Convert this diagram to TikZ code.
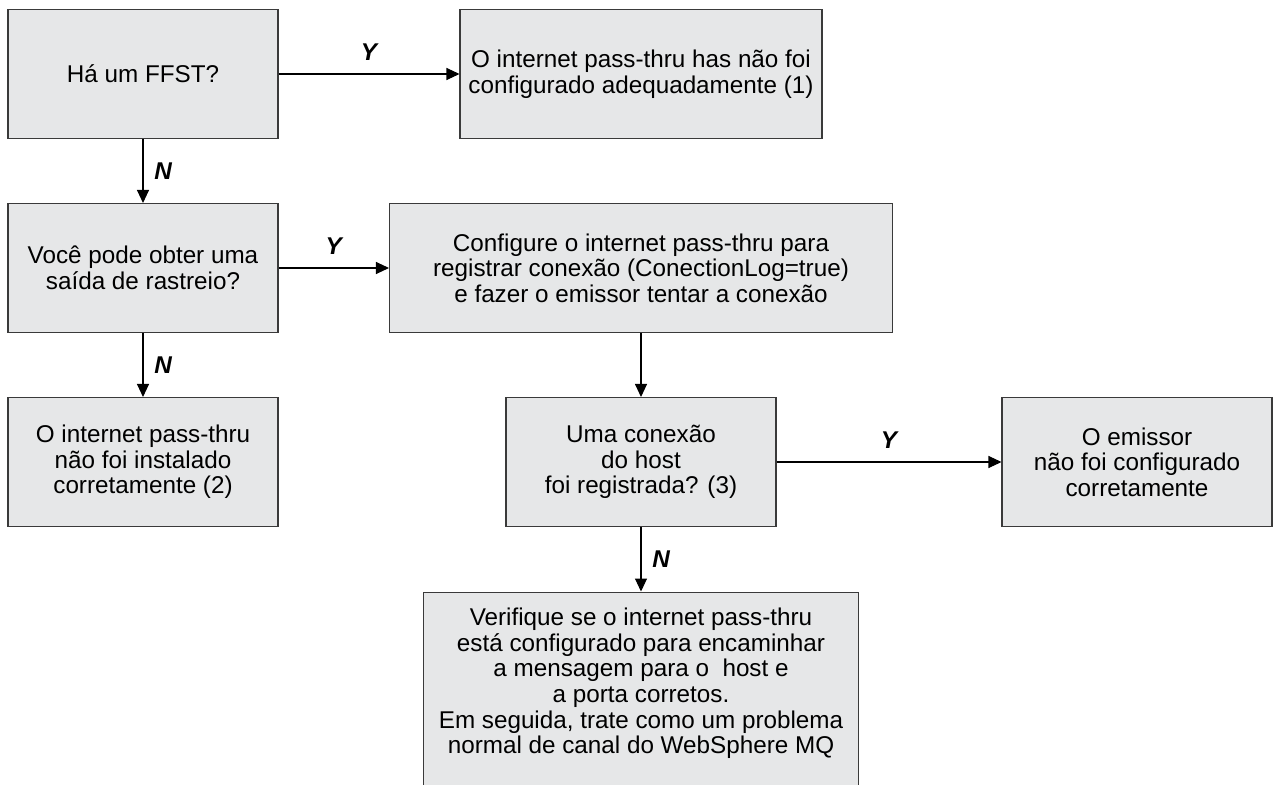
\documentclass[tikz,border=0pt]{standalone}
\usepackage{fontspec}
\setmainfont{Liberation Sans}
\usetikzlibrary{arrows.meta}

\definecolor{boxfill}{HTML}{E6E7E8}
\definecolor{boxline}{HTML}{3A3A3A}

\tikzset{
  box/.style={draw=boxline, fill=boxfill, rectangle, align=center,
    minimum width=5.4cm, minimum height=2.58cm,
    font=\fontsize{13.8}{14.6}\selectfont},
  yn/.style={font=\fontsize{13.8}{14.6}\selectfont\bfseries\itshape}
}

\begin{document}
\begin{tikzpicture}[node distance=3.88cm, line width=0.6pt,
    >={Triangle[length=2.6mm,width=2.4mm]}]
    \useasboundingbox (0,0) rectangle (25.5,-15.68);

    \node (ffst) [box] at (2.86,-1.48) {Há um FFST?};
    \node (badcfg) [box, node distance=9.96cm, right of=ffst, minimum width=7.24cm]
        {O internet pass-thru has não foi\\configurado adequadamente (1)};
    \node (trace) [box, below of=ffst] {Você pode obter uma\\saída de rastreio?};
    \node (setlog) [box, below of=badcfg, minimum width=10.06cm]
        {Configure o internet pass-thru para\\registrar conexão (ConectionLog=true)\\e fazer o emissor tentar a conexão};
    \node (install) [box, below of=trace] {O internet pass-thru\\não foi instalado\\corretamente (2)};
    \node (hostq) [box, below of=setlog] {Uma conexão\\do host\\foi registrada? (3)};
    \node (sender) [box, node distance=9.92cm, right of=hostq] {O emissor\\não foi configurado\\corretamente};
    \node (check) [box, node distance=2.59cm, below of=hostq, anchor=north,
        minimum width=8.7cm, minimum height=0pt, inner ysep=0.32cm, text depth=4cm]
        {Verifique se o internet pass-thru\\está configurado para encaminhar\\a mensagem para o\ \ host e\\a porta corretos.\\Em seguida, trate como um problema\\normal de canal do WebSphere MQ};

    \draw[->] (ffst) -- (badcfg) node[midway, above=1.5mm, yn] {Y};
    \draw[->] (ffst) -- (trace) node[midway, right=1mm, yn] {N};
    \draw[->] (trace) -- (setlog) node[midway, above=1.5mm, yn] {Y};
    \draw[->] (trace) -- (install) node[midway, right=1mm, yn] {N};
    \draw[->] (setlog) -- (hostq);
    \draw[->] (hostq) -- (sender) node[midway, above=1.5mm, yn] {Y};
    \draw[->] (hostq) -- (check) node[midway, right=1mm, yn] {N};
\end{tikzpicture}
\end{document}
